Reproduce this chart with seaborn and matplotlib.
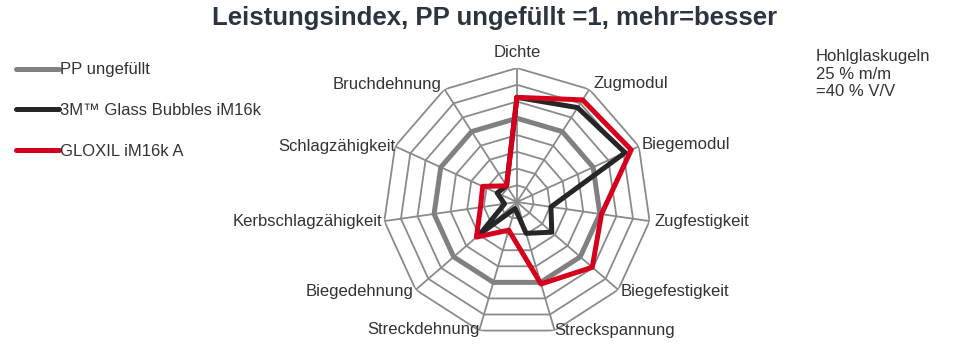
"""radar chart: Leistungsindex PP ungefuellt vs. Hohlglaskugeln
"""
import matplotlib as mpl
import matplotlib.pyplot as plt
import seaborn as sns
import numpy as np
import pandas as pd
from matplotlib.lines import Line2D

categories = ["Dichte", "Zugmodul", "Biegemodul", "Zugfestigkeit", "Biegefestigkeit",
              "Streckspannung", "Streckdehnung", "Biegedehnung", "Kerbschlagzähigkeit",
              "Schlagzähigkeit", "Bruchdehnung"]
series_names = ["PP ungefüllt", "3M™ Glass Bubbles iM16k", "GLOXIL iM16k A"]
pp_values = [1, 1, 1, 1, 1, 1, 1, 1, 1, 1, 1]
glass_bubbles = [1.25, 1.34, 1.42, 0.41, 0.55, 0.39, 0.08, 0.58, 0.15, 0.26, 0.23]
gloxil = [1.25, 1.45, 1.50, 1.02, 1.19, 1.02, 0.35, 0.64, 0.44, 0.45, 0.23]
ring_values = [0.2, 0.4, 0.6, 0.8, 1.0, 1.2, 1.4, 1.6]
note_lines = ["Hohlglaskugeln", "25 % m/m", "=40 % V/V"]
title = "Leistungsindex, PP ungefüllt =1, mehr=besser"

colors = {"PP ungefüllt": "#808080", "3M™ Glass Bubbles iM16k": "#262626",
          "GLOXIL iM16k A": "#d6001c"}

n = len(categories)
theta = 2 * np.pi * np.arange(n) / n
theta_closed = np.append(theta, 2 * np.pi)

# long table, each series closed back to Dichte
rows = []
for name, vals in zip(series_names, [pp_values, glass_bubbles, gloxil]):
    for t, v in zip(theta_closed, list(vals) + [vals[0]]):
        rows.append({"theta": t, "value": v, "series": name})
df = pd.DataFrame(rows)

sns.set_theme(style="white")
plt.rcParams['font.family'] = ['Liberation Sans', 'DejaVu Sans']
text_color = "#333333"

fig = plt.figure(figsize=(9.73, 3.51), dpi=100)
ax = fig.add_axes([0.3936, 0.0427, 0.2754, 0.7635], projection="polar")
ax.set_theta_zero_location("N")
ax.set_theta_direction(-1)
ax.set_ylim(0, 1.6)
ax.grid(False)
ax.spines["polar"].set_visible(False)
ax.set_xticks([])
ax.set_yticks([])
ax.set_facecolor("none")

# polygon web
grid_color = "#8a8a8a"
for r in ring_values:
    ax.plot(theta_closed, [r] * (n + 1), color=grid_color, lw=1.3, zorder=1)
for t in theta:
    ax.plot([t, t], [0, ring_values[-1]], color=grid_color, lw=1.3, zorder=1)

sns.lineplot(data=df, x="theta", y="value", hue="series", palette=colors,
             hue_order=series_names, sort=False, estimator=None, linewidth=3.6,
             legend=False, ax=ax, zorder=3)
ax.set_xlabel("")
ax.set_ylabel("")

# category labels round the web
label_r = [1.79, 1.68, 1.64, 1.66, 1.635, 1.60, 1.59, 1.63, 1.63, 1.59, 1.67]
for t, label, r in zip(theta, categories, label_r):
    deg = np.degrees(t)
    if deg < 1:
        ha = "center"
    else:
        ha = "left" if deg < 180 else "right"
    ax.text(t, r, label, ha=ha, va="center", fontsize=12, color=text_color)

fig.suptitle(title, x=0.508, y=0.948, va="center", fontsize=18.5, fontweight="bold",
             color="#2b3440")

handles = [Line2D([0], [0], color=colors[s], lw=3.6) for s in series_names]
fig.legend(handles=handles, labels=series_names, loc="upper left",
           bbox_to_anchor=(0.001, 0.865), frameon=False, fontsize=12,
           labelspacing=1.55, handlelength=2.6, handletextpad=0.05,
           labelcolor=text_color)

fig.text(0.8385, 0.86, "\n".join(note_lines), ha="left", va="top", fontsize=12,
         color=text_color, linespacing=1.2)

plt.savefig("out.png", dpi=100)
